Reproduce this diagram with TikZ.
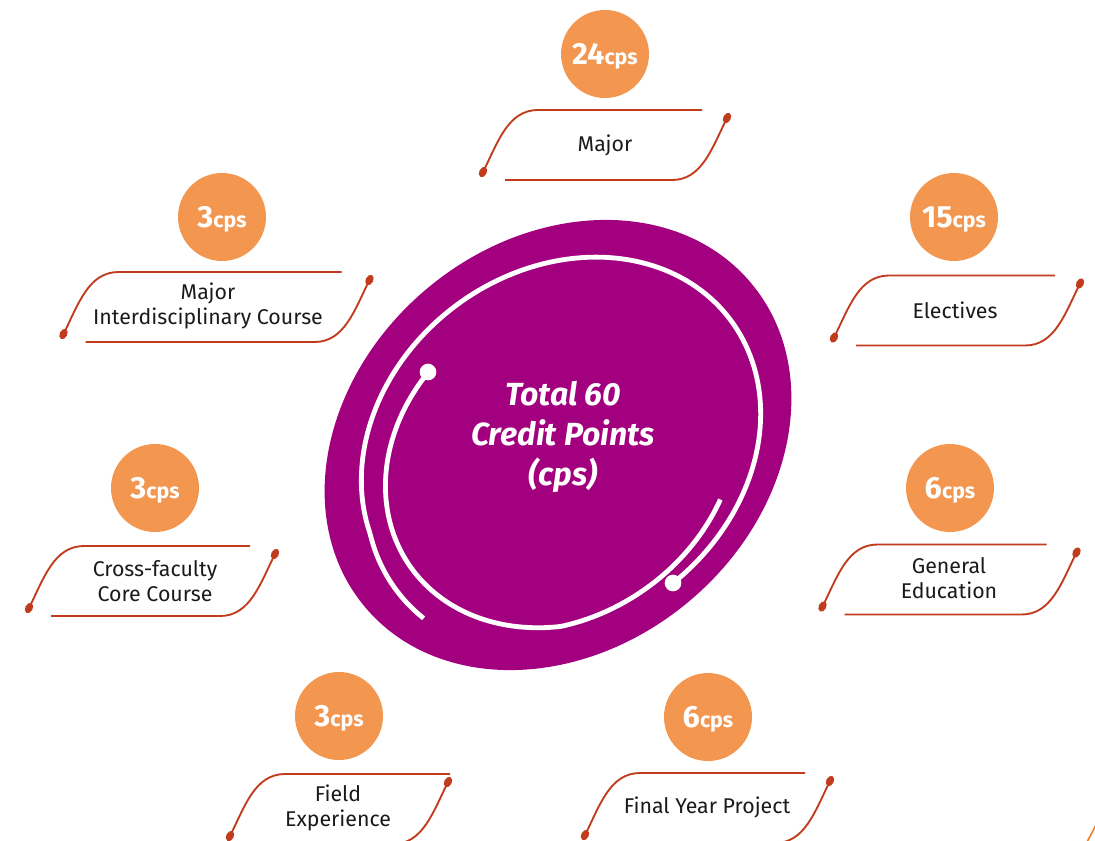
\documentclass[tikz,border=0pt]{standalone}
\usepackage{fontspec}
\setmainfont{Fira Sans}
\definecolor{purp}{RGB}{163,0,127}
\definecolor{badgeorange}{RGB}{242,150,80}
\definecolor{rust}{RGB}{192,60,28}
\definecolor{txt}{RGB}{26,26,26}
\definecolor{fragorange}{RGB}{240,128,40}
\tikzset{
  badgecirc/.style={circle, fill=badgeorange, minimum size=66pt, inner sep=0pt},
  badgetext/.style={anchor=base, text=white, inner sep=0pt, font=\fontsize{23}{26}\selectfont\bfseries},
  rustline/.style={draw=rust, line width=1.4pt},
  labeltext/.style={text=txt, align=center, inner sep=0pt, font=\fontsize{16}{18.75}\selectfont},
  spiralline/.style={draw=white, line width=3.6pt},
  whitedot/.style={circle, fill=white, minimum size=12.5pt, inner sep=0pt},
  centertext/.style={text=white, align=center, inner sep=0pt, font=\fontsize{24}{30}\selectfont\bfseries\itshape}
}
\newcommand\cpsfont{\fontsize{16}{18}\selectfont}
% #1 x, #2 y, #3 half width, #4 top line end offset from right dot
\newcommand\drawlabelshape[4]{%
  \begin{scope}[shift={(#1,#2)}]
    \draw[rustline] (-#3,27) .. controls (-#3+15,-3) and (-#3+25,-35) .. (-#3+55,-35) -- (#3-#4,-35);
    \draw[rustline] (-#3+22,35) -- (#3-55,35) .. controls (#3-25,35) and (#3-15,3) .. (#3,-27);
    \begin{scope}[shift={(-#3,27)}, rotate=63]
      \fill[rust] (0,0) ellipse (5.5 and 3.8);
    \end{scope}
    \begin{scope}[shift={(#3,-27)}, rotate=63]
      \fill[rust] (0,0) ellipse (5.5 and 3.8);
    \end{scope}
  \end{scope}}
\begin{document}
\begin{tikzpicture}[x=0.75pt,y=-0.75pt]
\useasboundingbox (0,0) rectangle (1095,840);

% central blob
\coordinate (blobc) at (558,445);
\fill[purp, rotate around={40:(blobc)}] (blobc) ellipse (252 and 204);

% white arcs
\node[whitedot] (dotA) at (673,583) {};
\node[whitedot] (dotB) at (428,372) {};
\draw[spiralline] plot[domain=163:448, samples=150, variable=\t]
  ({561 + (0.99+0.05*max(0,(195-\t)/32))*(214*cos(\t)*0.7986 + 178*sin(\t)*0.6018)},
   {447 + (0.99+0.05*max(0,(195-\t)/32))*(-214*cos(\t)*0.6018 + 178*sin(\t)*0.7986)});
\draw[spiralline] plot[domain=60:250, samples=120, variable=\t]
  ({561 + (0.95-0.0009*abs(\t-122))*(214*cos(\t)*0.7986 + 178*sin(\t)*0.6018)},
   {447 + (0.95-0.0009*abs(\t-122))*(-214*cos(\t)*0.6018 + 178*sin(\t)*0.7986)});

\node[centertext] (total) at (563,437) {Total 60\\Credit Points\\(cps)};

% badges
\node[badgecirc] (bmajor) at (605,54) {};
\node[badgetext] (tmajor) at (605,64) {24{\cpsfont cps}};
\node[badgecirc] (bmic) at (222,217) {};
\node[badgetext] (tmic) at (222,227) {3{\cpsfont cps}};
\node[badgecirc] (belec) at (954,217) {};
\node[badgetext] (telec) at (954,227) {15{\cpsfont cps}};
\node[badgecirc] (bcross) at (155,488) {};
\node[badgetext] (tcross) at (155,498) {3{\cpsfont cps}};
\node[badgecirc] (bgen) at (950,488) {};
\node[badgetext] (tgen) at (950,498) {6{\cpsfont cps}};
\node[badgecirc] (bfield) at (339,716) {};
\node[badgetext] (tfield) at (339,726) {3{\cpsfont cps}};
\node[badgecirc] (bfyp) at (708,717) {};
\node[badgetext] (tfyp) at (708,727) {6{\cpsfont cps}};

% label frames
\drawlabelshape{605}{145}{122}{25}
\drawlabelshape{216.5}{307}{153}{28}
\drawlabelshape{957}{310.5}{123}{25}
\drawlabelshape{152}{581}{123}{25}
\drawlabelshape{949.5}{579.5}{127}{30}
\drawlabelshape{339}{809}{109}{-2}
\drawlabelshape{707.5}{808}{122.5}{25}

% label texts
\node[labeltext] (lmajor) at (605,145) {Major};
\node[labeltext] (lmic) at (208,306) {Major\\Interdisciplinary Course};
\node[labeltext] (lelec) at (955,310) {Electives};
\node[labeltext] (lcross) at (155,581) {Cross-faculty\\Core Course};
\node[labeltext] (lgen) at (949,578) {General\\Education};
\node[labeltext] (lfield) at (338,808) {Field\\Experience};
\node[labeltext] (lfyp) at (707,807) {Final Year Project};

% fragment at bottom right corner
\coordinate (fragA) at (1087,842);
\coordinate (fragB) at (1096,825);
\draw[fragorange, line width=1.2pt] (fragA) -- (fragB);
\end{tikzpicture}
\end{document}
